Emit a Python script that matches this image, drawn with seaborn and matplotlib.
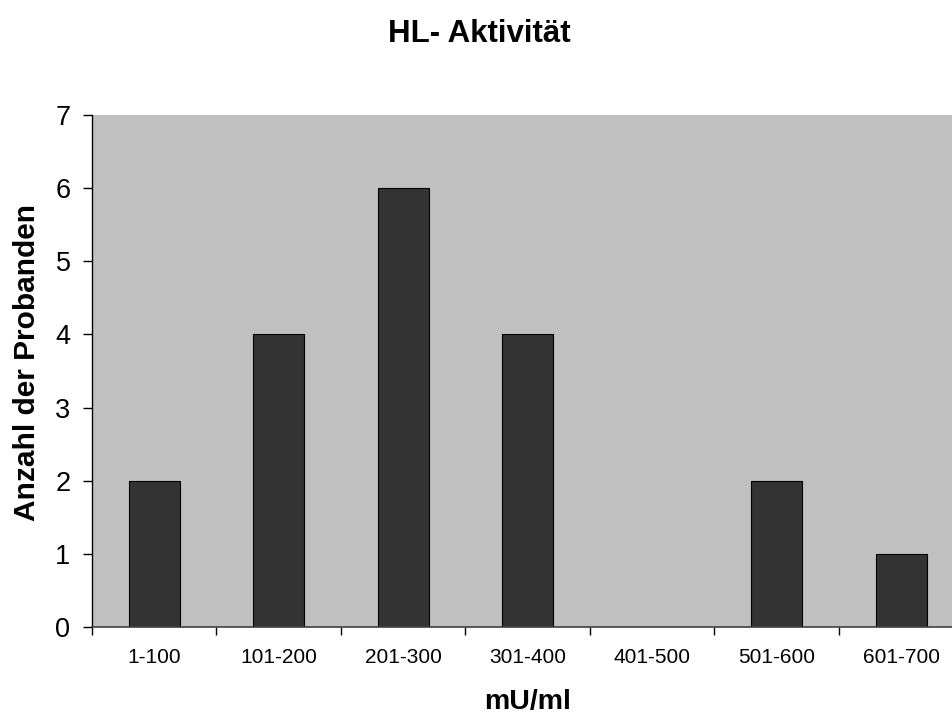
import matplotlib
matplotlib.use("Agg")
import matplotlib.pyplot as plt
import numpy as np
import pandas as pd
import seaborn as sns

categories = ["1-100", "101-200", "201-300", "301-400", "401-500", "501-600", "601-700"]
counts = [2, 4, 6, 4, 0, 2, 1]
y_ticks = [0, 1, 2, 3, 4, 5, 6, 7]

df = pd.DataFrame({"Bereich": categories, "Anzahl": counts})

sns.set_theme(style="white", rc={
    "text.color": "black",
    "axes.labelcolor": "black",
    "xtick.color": "black",
    "ytick.color": "black",
})
plt.rcParams["font.family"] = ["Liberation Sans", "DejaVu Sans"]

fig = plt.figure(figsize=(9.53, 7.15), dpi=100)
ax = fig.add_axes([92 / 953, 88 / 715, 871.5 / 953, 512 / 715])
ax.set_facecolor("#c0c0c0")

sns.barplot(data=df, x="Bereich", y="Anzahl", order=categories, color="#333333",
            edgecolor="black", linewidth=0.8, width=0.41, saturation=1, ax=ax)

ax.set_xlim(-0.5, len(categories) - 0.5)
ax.set_ylim(0, 7)
ax.set_yticks(y_ticks)
ax.set_yticklabels([str(v) for v in y_ticks], fontsize=19.5)
ax.tick_params(axis="y", direction="out", length=6.5, width=1, color="black", pad=9, left=True)

# category labels without ticks; ticks sit on the category boundaries
ax.set_xticks(range(len(categories)))
ax.set_xticklabels(categories, fontsize=15)
ax.tick_params(axis="x", which="major", length=0, pad=15)
ax.set_xticks(np.arange(-0.5, len(categories), 1.0), minor=True)
ax.tick_params(axis="x", which="minor", direction="out", length=6, width=1, color="black", bottom=True)

for side in ["top", "right"]:
    ax.spines[side].set_visible(False)
ax.spines["left"].set_color("black")
ax.spines["left"].set_linewidth(1)
ax.spines["bottom"].set_color("#404040")
ax.spines["bottom"].set_linewidth(1.2)

ax.set_xlabel("mU/ml", fontsize=20.5, fontweight="bold")
ax.xaxis.set_label_coords(0.5, (627 - 702) / 512)
ax.xaxis.label.set_va("center")
ax.set_ylabel("Anzahl der Probanden", fontsize=21.5, fontweight="bold")
ax.yaxis.set_label_coords((27 - 92) / 871.5, 0.516)
ax.yaxis.label.set_va("center")
fig.text(479 / 953, 1 - 34 / 715, "HL- Aktivität", fontsize=22.5, fontweight="bold",
         ha="center", va="center")

fig.savefig("out.png", dpi=100)
